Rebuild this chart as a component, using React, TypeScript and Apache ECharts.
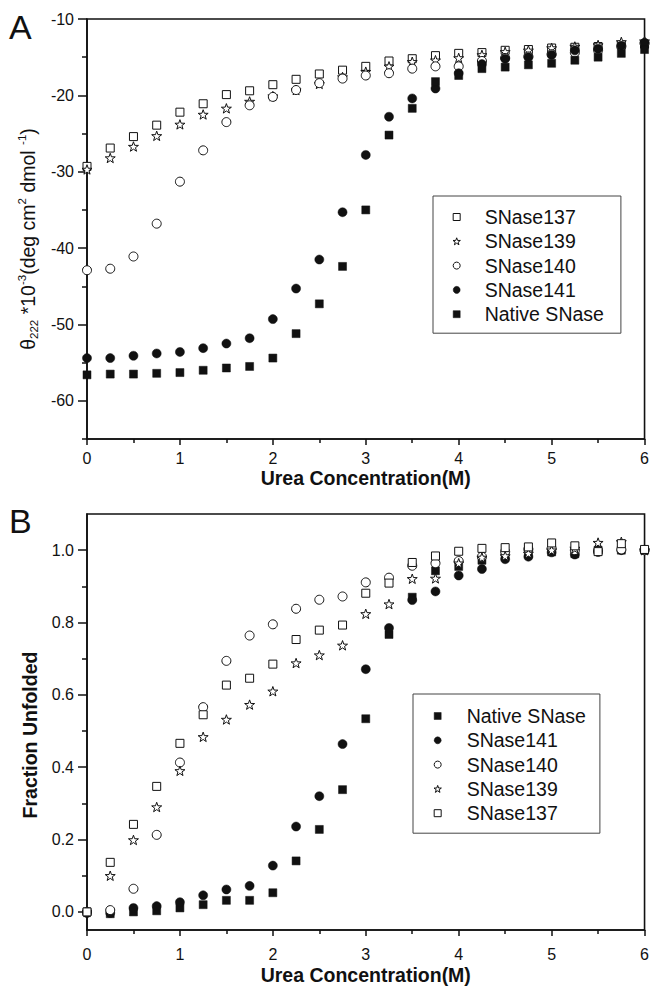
import React, { useEffect, useRef } from 'react';
import * as echarts from 'echarts';

// Urea concentration (M)
const ureaConc = [0, 0.25, 0.5, 0.75, 1, 1.25, 1.5, 1.75, 2, 2.25, 2.5, 2.75, 3, 3.25, 3.5, 3.75, 4, 4.25, 4.5, 4.75, 5, 5.25, 5.5, 5.75, 6];

// Panel A: theta222 * 10^-3
const snase137A = [-29.3, -26.9, -25.4, -23.9, -22.2, -21.1, -19.9, -19.4, -18.6, -17.9, -17.2, -16.7, -16.2, -15.5, -15.2, -14.8, -14.5, -14.4, -14.1, -14.0, -13.8, -13.7, -13.6, -13.4, -13.3];
const snase139A = [-29.7, -28.2, -26.7, -25.3, -23.8, -22.5, -21.7, -20.8, -20.1, -19.3, -18.5, -17.6, -16.9, -16.2, -15.6, -15.4, -15.1, -14.7, -14.3, -14.1, -13.8, -13.6, -13.4, -13.0, -12.9];
const snase140A = [-42.9, -42.7, -41.1, -36.8, -31.3, -27.2, -23.5, -21.3, -20.2, -19.3, -18.4, -17.8, -17.4, -17.1, -16.5, -16.2, -16.2, -15.5, -15.1, -14.9, -14.6, -14.4, -14.1, -13.6, -13.2];
const snase141A = [-54.4, -54.4, -54.1, -53.8, -53.6, -53.1, -52.5, -51.8, -49.3, -45.3, -41.5, -35.3, -27.8, -22.8, -20.4, -19.1, -17.1, -15.9, -15.2, -15.0, -14.7, -14.1, -13.9, -13.5, -13.1];
const nativeA = [-56.6, -56.5, -56.5, -56.4, -56.3, -56.0, -55.7, -55.5, -54.4, -51.2, -47.3, -42.4, -35.0, -25.2, -21.7, -18.2, -17.4, -16.5, -16.3, -16.0, -15.8, -15.4, -15.0, -14.5, -14.0];

// Panel B: fraction unfolded
const nativeB = [0.0, -0.005, 0.0, 0.003, 0.011, 0.02, 0.032, 0.032, 0.053, 0.141, 0.228, 0.338, 0.534, 0.767, 0.87, 0.943, 0.955, 0.972, 0.985, 0.99, 0.995, 0.99, 1.0, 1.0, 1.0];
const snase141B = [-0.003, -0.003, 0.011, 0.016, 0.027, 0.046, 0.062, 0.072, 0.128, 0.236, 0.32, 0.464, 0.671, 0.785, 0.862, 0.886, 0.93, 0.948, 0.975, 0.982, 0.994, 0.988, 0.995, 1.0, 1.0];
const snase140B = [0.0, 0.005, 0.064, 0.213, 0.413, 0.566, 0.694, 0.764, 0.795, 0.838, 0.863, 0.872, 0.911, 0.924, 0.957, 0.964, 0.97, 0.982, 0.996, 1.003, 1.005, 1.0, 0.998, 1.002, 1.0];
const snase139B = [0.0, 0.1, 0.199, 0.29, 0.39, 0.484, 0.532, 0.573, 0.61, 0.688, 0.71, 0.737, 0.824, 0.851, 0.921, 0.922, 0.964, 0.98, 0.984, 0.991, 1.0, 1.005, 1.021, 1.023, 1.0];
const snase137B = [0.0, 0.137, 0.242, 0.347, 0.466, 0.545, 0.627, 0.646, 0.685, 0.753, 0.779, 0.793, 0.881, 0.909, 0.966, 0.984, 0.997, 1.005, 1.007, 1.009, 1.02, 1.012, 0.996, 1.018, 1.002];

// Tick values
const yTicksA = [-60, -50, -40, -30, -20, -10];
const yMinorTicksA = [-65, -55, -45, -35, -25, -15];
const yTicksB = [0, 0.2, 0.4, 0.6, 0.8, 1.0];
const yMinorTicksB = [0.1, 0.3, 0.5, 0.7, 0.9];

const legendOrderA = ['SNase137', 'SNase139', 'SNase140', 'SNase141', 'Native SNase'];
const legendOrderB = ['Native SNase', 'SNase141', 'SNase140', 'SNase139', 'SNase137'];

const FONT = '"Liberation Sans", Arial, Helvetica, sans-serif';
const INK = '#111111';
const STAR = 'path://M3.5,0L4.32,2.37L6.83,2.42L4.83,3.93L5.56,6.33L3.5,4.9L1.44,6.33L2.17,3.93L0.17,2.42L2.68,2.37Z';
const SQUARE = 'path://M0,0L7,0L7,7L0,7Z';

const hollow = { color: '#ffffff', borderColor: INK, borderWidth: 1, opacity: 1 };
const solid = { color: INK, borderColor: INK, borderWidth: 0.5, opacity: 1 };

const styles: Record<string, any> = {
  'SNase137': { symbol: SQUARE, symbolSize: 8, itemStyle: hollow },
  'SNase139': { symbol: STAR, symbolSize: 10, itemStyle: hollow },
  'SNase140': { symbol: 'circle', symbolSize: 9, itemStyle: hollow },
  'SNase141': { symbol: 'circle', symbolSize: 9, itemStyle: solid },
  'Native SNase': { symbol: SQUARE, symbolSize: 8, itemStyle: solid },
};

const pair = (ys: number[]) => ureaConc.map((x, i) => [x, ys[i]]);

function makeSeries(name: string, ys: number[], panel: number) {
  return {
    type: 'scatter',
    name,
    xAxisIndex: panel,
    yAxisIndex: panel * 2,
    data: pair(ys),
    symbolKeepAspect: true,
    clip: true,
    ...styles[name],
  };
}

function legendItems(names: string[]) {
  return names.map((n) => ({ name: n, icon: styles[n].symbol, itemStyle: { ...styles[n].itemStyle } }));
}

function xAxisFor(grid: number, labelMargin: number, nameGap: number) {
  return {
    type: 'value',
    gridIndex: grid,
    min: 0,
    max: 6,
    interval: 1,
    position: 'bottom',
    name: 'Urea Concentration(M)',
    nameLocation: 'middle',
    nameGap,
    nameTextStyle: { fontFamily: FONT, fontSize: 19.5, fontWeight: 'bold', color: INK },
    axisLine: { show: true, onZero: false, lineStyle: { color: INK, width: 1.6 } },
    axisTick: { show: true, length: 6, lineStyle: { color: INK, width: 1.5 } },
    minorTick: { show: true, splitNumber: 2, length: 4, lineStyle: { color: INK, width: 1.5 } },
    axisLabel: { fontFamily: FONT, fontSize: 16, color: INK, margin: labelMargin },
    splitLine: { show: false },
  };
}

export default function App() {
  const ref = useRef<HTMLDivElement>(null);

  useEffect(() => {
    if (!ref.current) return;
    const chart = echarts.init(ref.current, undefined, { renderer: 'svg' });

    const legendBase = {
      orient: 'vertical',
      itemHeight: 7,
      itemGap: 4.3,
      selectedMode: false,
      borderColor: '#444',
      borderWidth: 1,
      borderRadius: 0,
      textStyle: { fontFamily: FONT, fontSize: 19.5, color: INK, lineHeight: 20 },
    };

    const option: any = {
      animation: false,
      backgroundColor: '#ffffff',
      title: [
        { text: 'A', left: 9, top: 10, padding: 0, textStyle: { fontFamily: FONT, fontSize: 34, fontWeight: 'normal', color: INK } },
        { text: 'B', left: 9, top: 504, padding: 0, textStyle: { fontFamily: FONT, fontSize: 34, fontWeight: 'normal', color: INK } },
      ],
      grid: [
        { left: 87, top: 19, width: 563, height: 420, show: true, borderColor: INK, borderWidth: 1.6, backgroundColor: 'transparent' },
        { left: 87, top: 514, width: 563, height: 420, show: true, borderColor: INK, borderWidth: 1.6, backgroundColor: 'transparent' },
      ],
      legend: [
        { ...legendBase, left: 433, top: 196, padding: [11, 17, 9, 19.5], itemWidth: 46, data: legendItems(legendOrderA) },
        { ...legendBase, left: 413, top: 694, padding: [12, 14, 10, 20.5], itemWidth: 48, data: legendItems(legendOrderB) },
      ],
      xAxis: [xAxisFor(0, 11, 29), xAxisFor(1, 16, 35)],
      yAxis: [
        {
          type: 'value',
          gridIndex: 0,
          position: 'left',
          min: -65,
          max: -10,
          name: '{t|θ}{sub|222}{t| *10}{sup|-3}{t|(deg cm}{sup|2}{t| dmol }{sup|-1}{t|)}',
          nameLocation: 'middle',
          nameRotate: 90,
          nameGap: 46,
          nameTextStyle: {
            fontFamily: FONT,
            fontSize: 19.5,
            color: INK,
            padding: [0, 20, 0, 0],
            rich: {
              t: { fontFamily: FONT, fontSize: 19.5, lineHeight: 24, color: INK },
              sub: { fontFamily: FONT, fontSize: 11.5, lineHeight: 12, verticalAlign: 'bottom', color: INK },
              sup: { fontFamily: FONT, fontSize: 11.5, lineHeight: 12, verticalAlign: 'top', color: INK },
            },
          },
          axisLine: { show: true, onZero: false, lineStyle: { color: INK, width: 1.6 } },
          axisTick: { show: true, length: 9, customValues: yTicksA, lineStyle: { color: INK, width: 1.5 } },
          axisLabel: { fontFamily: FONT, fontSize: 16, color: INK, margin: 13, customValues: yTicksA },
          splitLine: { show: false },
        },
        {
          type: 'value',
          gridIndex: 0,
          position: 'left',
          offset: 0,
          min: -65,
          max: -10,
          axisLine: { show: false, onZero: false },
          axisTick: { show: true, length: 5, customValues: yMinorTicksA, lineStyle: { color: INK, width: 1.5 } },
          axisLabel: { show: false },
          splitLine: { show: false },
        },
        {
          type: 'value',
          gridIndex: 1,
          position: 'left',
          min: -0.05,
          max: 1.1,
          name: 'Fraction Unfolded',
          nameLocation: 'middle',
          nameRotate: 90,
          nameGap: 47,
          nameTextStyle: { fontFamily: FONT, fontSize: 19.5, fontWeight: 'bold', color: INK, padding: [0, 26, 0, 0] },
          axisLine: { show: true, onZero: false, lineStyle: { color: INK, width: 1.6 } },
          axisTick: { show: true, length: 9, customValues: yTicksB, lineStyle: { color: INK, width: 1.5 } },
          axisLabel: {
            fontFamily: FONT, fontSize: 16, color: INK, margin: 13, customValues: yTicksB,
            formatter: (v: number) => v.toFixed(1),
          },
          splitLine: { show: false },
        },
        {
          type: 'value',
          gridIndex: 1,
          position: 'left',
          offset: 0,
          min: -0.05,
          max: 1.1,
          axisLine: { show: false, onZero: false },
          axisTick: { show: true, length: 5, customValues: yMinorTicksB, lineStyle: { color: INK, width: 1.5 } },
          axisLabel: { show: false },
          splitLine: { show: false },
        },
      ],
      series: [
        makeSeries('SNase137', snase137A, 0),
        makeSeries('SNase139', snase139A, 0),
        makeSeries('SNase140', snase140A, 0),
        makeSeries('SNase141', snase141A, 0),
        makeSeries('Native SNase', nativeA, 0),
        makeSeries('Native SNase', nativeB, 1),
        makeSeries('SNase141', snase141B, 1),
        makeSeries('SNase140', snase140B, 1),
        makeSeries('SNase139', snase139B, 1),
        makeSeries('SNase137', snase137B, 1),
      ],
    };

    chart.setOption(option);
    return () => chart.dispose();
  }, []);

  return <div ref={ref} style={{ width: 652, height: 986, position: 'absolute', left: 0, top: 0 }} />;
}
